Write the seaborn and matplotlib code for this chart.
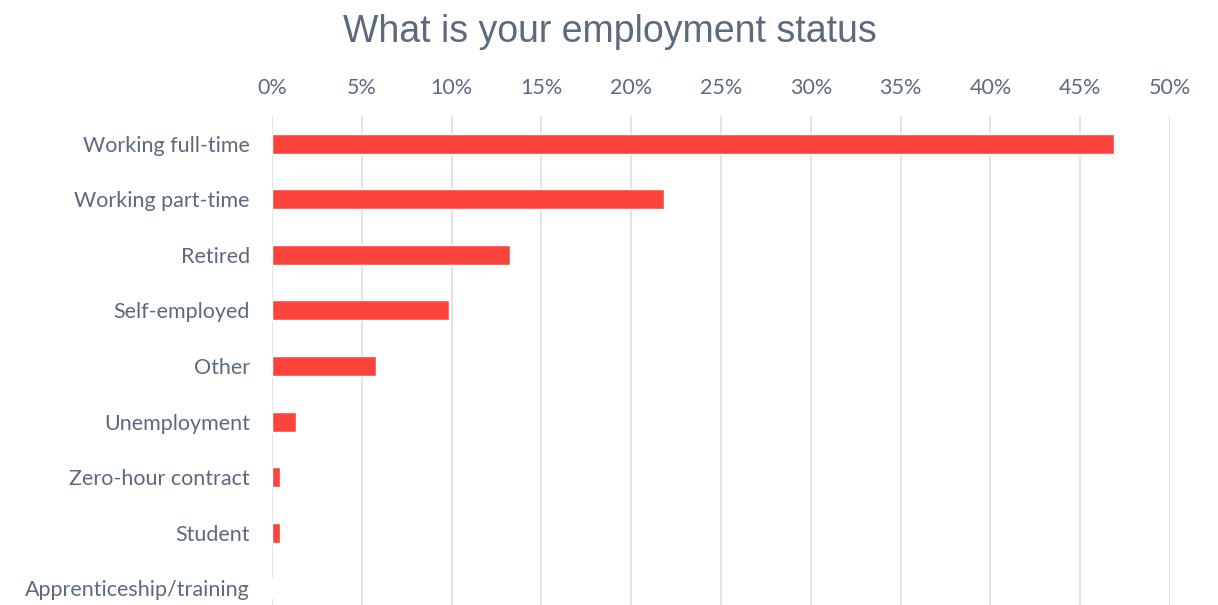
import matplotlib
matplotlib.use("Agg")
import matplotlib.pyplot as plt
import seaborn as sns
import pandas as pd
from matplotlib.ticker import PercentFormatter, MultipleLocator

categories = ["Working full-time", "Working part-time", "Retired", "Self-employed",
              "Other", "Unemployment", "Zero-hour contract", "Student",
              "Apprenticeship/training"]
values = [46.9, 21.8, 13.25, 9.85, 5.8, 1.35, 0.45, 0.45, 0.0]

df = pd.DataFrame({"category": categories, "value": values})

sns.set_theme(style="white")
plt.rcParams['font.family'] = ['Lato', 'DejaVu Sans']
text_color = "#5a6b7e"

fig = plt.figure(figsize=(12.18, 6.05), dpi=100)
ax = fig.add_axes([272/1218, -11/605, (1170-272)/1218, (616-116)/605])

sns.barplot(data=df, x="value", y="category", color="#fc443d", width=0.36,
            saturation=1, ax=ax, orient="h")

ax.set_xlim(0, 50)
ax.xaxis.set_major_locator(MultipleLocator(5))
ax.xaxis.set_major_formatter(PercentFormatter(decimals=0))
ax.xaxis.tick_top()
ax.grid(axis="x", color="#dde1e6", linewidth=1.3)
ax.set_axisbelow(True)
for s in ax.spines.values():
    s.set_visible(False)
ax.tick_params(axis="both", length=0, labelsize=15.5, labelcolor=text_color)
ax.tick_params(axis="x", pad=13)
ax.tick_params(axis="y", pad=16)
ax.set_xlabel("")
ax.set_ylabel("")

fig.text(610/1218, 1 - 32/605, "What is your employment status", ha="center", va="center",
         fontsize=27, color=text_color, family=["Liberation Sans", "DejaVu Sans"])

fig.savefig("out.png", dpi=100)
